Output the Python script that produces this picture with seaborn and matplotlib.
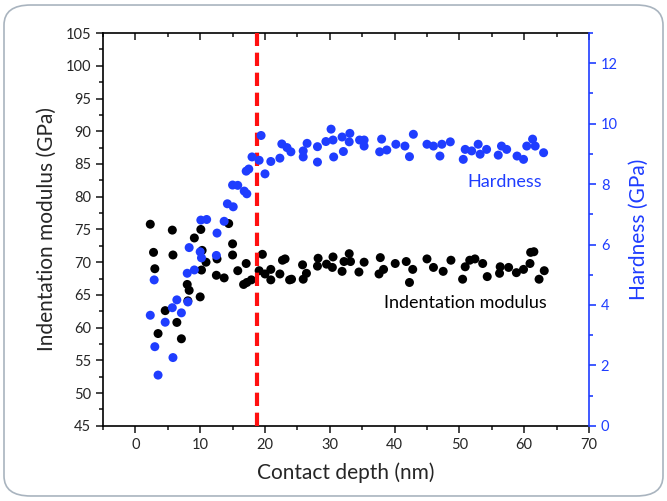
import pandas as pd
import seaborn as sns
import matplotlib.pyplot as plt
from matplotlib.patches import FancyBboxPatch
from matplotlib.ticker import MultipleLocator

# Indentation modulus (GPa) vs contact depth (nm)
mod_depth = [2.3, 2.8, 3.0, 5.7, 5.8, 4.6, 3.5, 6.4, 7.1, 8.0, 8.3, 8.1, 9.1, 10.1,
             10.3, 10.9, 10.2, 10.0, 12.6, 12.5, 13.7, 14.4, 15.0, 15.0, 15.8, 16.7,
             17.2, 17.1, 17.9, 19.6, 19.1, 20.0, 20.9, 20.9, 22.3, 22.7, 23.1, 23.8,
             24.1, 25.8, 26.4, 25.9, 28.2, 28.1, 29.5, 30.5, 30.4, 31.9, 32.2, 33.0,
             33.2, 34.5, 35.3, 37.6, 38.3, 37.8, 40.1, 41.8, 42.8, 42.3, 45.0, 46.0,
             47.5, 48.7, 50.5, 50.9, 51.6, 52.4, 53.6, 54.3, 56.3, 56.2, 57.6, 58.8,
             59.9, 60.9, 61.0, 61.5, 62.3, 63.1]
modulus = [75.8, 71.5, 69.0, 74.9, 71.1, 62.6, 59.1, 60.8, 58.3, 66.6, 65.7, 64.1, 73.7, 75.0,
           71.8, 70.0, 68.8, 64.7, 70.5, 68.0, 67.6, 75.9, 72.8, 71.1, 68.7, 66.6,
           66.9, 69.8, 67.3, 71.2, 68.7, 68.2, 68.9, 67.3, 68.2, 70.3, 70.5, 67.3,
           67.4, 69.6, 68.3, 67.4, 70.6, 69.4, 69.7, 70.8, 69.2, 68.6, 70.1, 71.3,
           70.1, 68.5, 70.0, 68.2, 68.9, 70.7, 69.8, 70.1, 68.9, 66.9, 70.5, 69.2,
           68.6, 70.3, 67.4, 69.3, 70.3, 70.5, 69.8, 67.8, 69.3, 68.3, 69.2, 68.4,
           68.9, 69.8, 71.5, 71.6, 67.4, 68.7]

# Hardness (GPa) vs contact depth (nm)
hard_depth = [2.9, 2.3, 3.0, 3.5, 5.8, 4.6, 5.7, 6.4, 7.1, 8.1, 8.0, 9.1, 8.3, 10.0,
              10.2, 10.1, 11.0, 12.6, 12.5, 13.7, 14.2, 15.1, 15.0, 15.8, 16.8, 17.2,
              17.1, 17.5, 18.0, 19.4, 19.1, 20.0, 20.9, 22.3, 22.6, 23.4, 24.0, 25.9,
              25.9, 26.5, 28.1, 28.1, 29.4, 30.2, 30.5, 30.6, 31.9, 32.1, 33.1, 33.0,
              34.6, 35.3, 35.3, 38.0, 37.7, 38.8, 40.2, 41.6, 42.3, 42.9, 45.0, 46.0,
              47.0, 47.3, 48.6, 50.6, 50.9, 51.9, 52.9, 53.2, 54.2, 56.0, 56.5, 57.3,
              58.9, 59.9, 60.4, 61.3, 61.7, 63.0]
hardness = [4.83, 3.66, 2.62, 1.68, 2.26, 3.43, 3.91, 4.17, 3.74, 4.10, 5.05, 5.16, 5.90, 5.76,
            5.56, 6.81, 6.83, 6.38, 5.64, 6.77, 7.35, 7.25, 7.97, 7.96, 7.77, 7.68,
            8.43, 8.50, 8.90, 9.61, 8.79, 8.34, 8.75, 8.86, 9.33, 9.21, 9.07, 9.10,
            8.90, 9.35, 9.24, 8.73, 9.41, 9.82, 9.46, 8.90, 9.56, 9.08, 9.68, 9.40,
            9.46, 9.46, 9.26, 9.49, 9.07, 9.13, 9.32, 9.26, 8.91, 9.65, 9.32, 9.26,
            8.93, 9.32, 9.40, 8.82, 9.15, 9.10, 9.32, 8.99, 9.15, 8.96, 9.26, 9.15,
            8.93, 8.82, 9.26, 9.49, 9.26, 9.04]

critical_depth = 18.8

df_mod = pd.DataFrame({"Contact depth (nm)": mod_depth, "Modulus": modulus})
df_hard = pd.DataFrame({"Contact depth (nm)": hard_depth, "Hardness": hardness})

sns.set_style("white")
plt.rcParams["font.family"] = ["Lato", "DejaVu Sans"]
blue = "#1f3dff"

fig = plt.figure(figsize=(6.67, 5.01), dpi=100)
ax = fig.add_axes([0.1544, 0.150, 0.883 - 0.1544, 0.934 - 0.150])
ax2 = ax.twinx()

sns.scatterplot(data=df_mod, x="Contact depth (nm)", y="Modulus", ax=ax,
                color="black", s=42, edgecolor="none", zorder=3)
sns.scatterplot(data=df_hard, x="Contact depth (nm)", y="Hardness", ax=ax2,
                color=blue, s=42, edgecolor="none", zorder=3)
ax.axvline(critical_depth, color="#ff1010", lw=3, ls=(0, (3.2, 1.6)), zorder=5)

ax.set_xlim(-5, 70)
ax.set_ylim(45, 105)
ax2.set_ylim(0, 13)

ax.xaxis.set_major_locator(MultipleLocator(10))
ax.xaxis.set_minor_locator(MultipleLocator(5))
ax.yaxis.set_major_locator(MultipleLocator(5))
ax.yaxis.set_minor_locator(MultipleLocator(2.5))
ax2.yaxis.set_major_locator(MultipleLocator(2))
ax2.yaxis.set_minor_locator(MultipleLocator(1))

ax.tick_params(axis="both", which="major", direction="out", length=5, width=1.2,
               labelsize=10.5, bottom=True, left=True)
ax.tick_params(axis="both", which="minor", direction="out", length=3, width=1.2,
               bottom=True, left=True)
ax2.tick_params(axis="y", which="major", direction="out", length=5, width=1.2,
                colors=blue, labelsize=10.5, right=True)
ax2.tick_params(axis="y", which="minor", direction="out", length=3, width=1.2,
                colors=blue, right=True)

# top ticks point inward
secx = ax.secondary_xaxis("top")
secx.xaxis.set_major_locator(MultipleLocator(10))
secx.xaxis.set_minor_locator(MultipleLocator(5))
secx.tick_params(which="major", direction="in", length=5, width=1.2, labeltop=False)
secx.tick_params(which="minor", direction="in", length=3, width=1.2)
secx.spines["top"].set_visible(False)
ax.tick_params(axis="x", which="both", top=False)

for s in ax.spines.values():
    s.set_linewidth(1.2)
    s.set_color("black")
for name, s in ax2.spines.items():
    s.set_linewidth(1.2)
    s.set_visible(name == "right")
ax2.spines["right"].set_color(blue)
ax.spines["right"].set_visible(False)

ax.set_xlabel("Contact depth (nm)", fontsize=15, labelpad=8)
ax.set_ylabel("Indentation modulus (GPa)", fontsize=15, labelpad=6)
ax2.set_ylabel("Hardness (GPa)", fontsize=15, color=blue, labelpad=8)

ax.text(57.0, 82.3, "Hardness", color=blue, fontsize=13, ha="center", va="center")
ax.text(51.0, 63.8, "Indentation modulus", color="black", fontsize=13,
        ha="center", va="center")

fig.patches.append(FancyBboxPatch((0.006, 0.01), 0.988, 0.98,
                                  boxstyle="round,pad=0,rounding_size=0.04",
                                  transform=fig.transFigure, fill=False,
                                  edgecolor="#a9b4bf", lw=1.2, zorder=0))

plt.savefig("out.png", dpi=100)
plt.close()
